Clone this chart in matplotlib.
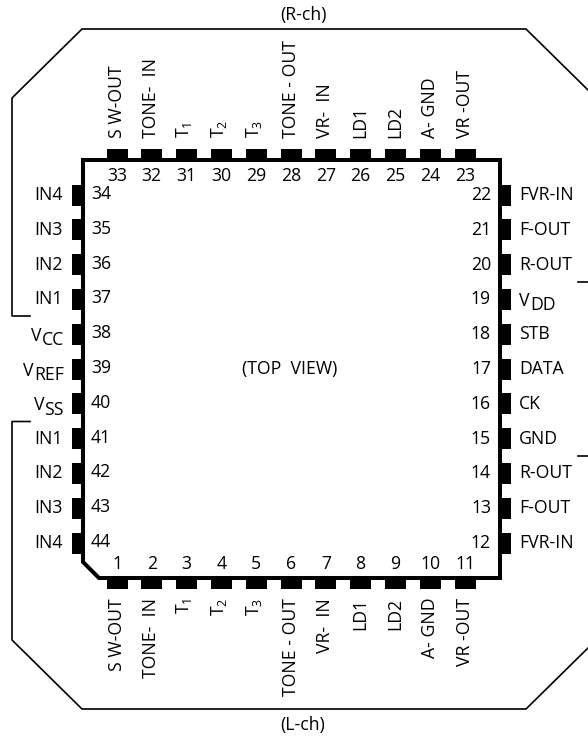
import matplotlib
matplotlib.use('Agg')
import matplotlib.pyplot as plt
from matplotlib.patches import Polygon
import numpy as np

plt.rcParams['font.family'] = ['Open Sans', 'DejaVu Sans']
plt.rcParams['mathtext.fontset'] = 'custom'
plt.rcParams['mathtext.rm'] = 'Open Sans'

top_names = ['S W-OUT', 'TONE-  IN', 'T1', 'T2', 'T3', 'TONE - OUT', 'VR-  IN', 'LD1', 'LD2', 'A- GND', 'VR -OUT']
top_nums = [33, 32, 31, 30, 29, 28, 27, 26, 25, 24, 23]
bottom_nums = [1, 2, 3, 4, 5, 6, 7, 8, 9, 10, 11]
left_names = ['IN4', 'IN3', 'IN2', 'IN1', 'VCC', 'VREF', 'VSS', 'IN1', 'IN2', 'IN3', 'IN4']
left_nums = [34, 35, 36, 37, 38, 39, 40, 41, 42, 43, 44]
right_names = ['FVR-IN', 'F-OUT', 'R-OUT', 'VDD', 'STB', 'DATA', 'CK', 'GND', 'R-OUT', 'F-OUT', 'FVR-IN']
right_nums = [22, 21, 20, 19, 18, 17, 16, 15, 14, 13, 12]

fs = 12.7

fig = plt.figure(figsize=(5.88, 7.4), dpi=100)
ax = fig.add_axes([0, 0, 1, 1])
ax.set_xlim(0, 588)
ax.set_ylim(740, 0)
ax.axis('off')

xs = 117 + 34.8 * np.arange(11)
ys = 195 + 34.8 * np.arange(11)

# package body with the cut corner
body = Polygon([(83, 160), (500, 160), (500, 578), (99, 578), (83, 562)], closed=True, fill=False,
               edgecolor='k', lw=2.9, joinstyle='miter')
ax.add_patch(body)

# pins
ax.bar(xs, 10, width=21, bottom=149, color='k')
ax.bar(xs, 10, width=21, bottom=579, color='k')
ax.barh(ys, 10, height=21, left=72, color='k')
ax.barh(ys, 10, height=21, left=501, color='k')

# R-ch / L-ch outline
ax.plot([30, 12, 12, 82, 526, 588], [316, 316, 98, 29, 29, 90], color='k', lw=1.2)
ax.plot([30, 12, 12, 82, 526, 588], [421.5, 421.5, 640, 709, 709, 648], color='k', lw=1.2)
ax.plot([578, 588], [282, 282], color='k', lw=1.2)
ax.plot([578, 588], [456, 456], color='k', lw=1.2)


def pin_label(name):
    if name in ('T1', 'T2', 'T3'):
        return name[0] + '$_{\\mathrm{' + name[1] + '}}$'
    return name


# names on top and bottom, reading upwards
for x, name in zip(xs, top_names):
    off = 2.5 if name[0] == 'T' and len(name) == 2 else 4.5
    ax.text(x + off, 138, pin_label(name), rotation=90, rotation_mode='anchor', ha='left', va='baseline', fontsize=fs)
    ax.text(x + off, 598, pin_label(name), rotation=90, rotation_mode='anchor', ha='right', va='baseline', fontsize=fs)

for x, n in zip(xs, top_nums):
    ax.text(x, 176, str(n), ha='center', va='center', fontsize=fs)
for x, n in zip(xs, bottom_nums):
    ax.text(x, 564, str(n), ha='center', va='center', fontsize=fs)
for y, n in zip(ys, left_nums):
    ax.text(91, y - 1, str(n), ha='left', va='center', fontsize=fs)
for y, n in zip(ys, right_nums):
    ax.text(491, y, str(n), ha='right', va='center', fontsize=fs)

renderer = fig.canvas.get_renderer()

for y, name in zip(ys, left_names):
    if name[0] == 'V':
        # V and its big subscript are set apart, same size
        sub = ax.text(64, y + 6, name[1:], ha='right', va='center', fontsize=fs)
        x0 = sub.get_window_extent(renderer).x0
        ax.text(x0 - 0.5, y + 1.5, 'V', ha='right', va='center', fontsize=fs)
    else:
        ax.text(63, y, name, ha='right', va='center', fontsize=fs)

for y, name in zip(ys, right_names):
    if name[0] == 'V':
        v = ax.text(519, y + 1.5, 'V', ha='left', va='center', fontsize=fs)
        x1 = v.get_window_extent(renderer).x1
        ax.text(x1 + 0.5, y + 5.5, name[1:], ha='left', va='center', fontsize=fs)
    else:
        ax.text(519, y, name, ha='left', va='center', fontsize=fs)

ax.text(303, 15, '(R-ch)', ha='center', va='center', fontsize=fs)
ax.text(303, 725, '(L-ch)', ha='center', va='center', fontsize=fs)
ax.text(290, 369, '(TOP  VIEW)', ha='center', va='center', fontsize=fs)

plt.savefig('out.png', dpi=100)
